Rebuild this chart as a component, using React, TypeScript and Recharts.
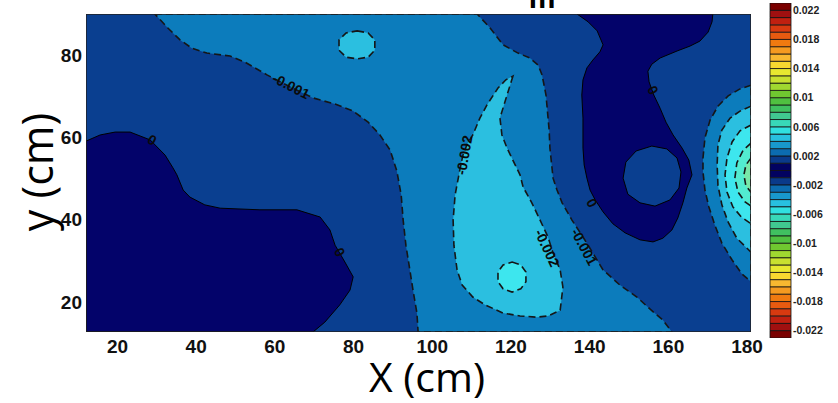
import React from 'react';
import { ComposedChart, Scatter, XAxis, YAxis, Customized, BarChart, Bar } from 'recharts';

// axes
const xTicks = [20, 40, 60, 80, 100, 120, 140, 160, 180];
const yTicks = [20, 40, 60, 80];
const plotBox = [[12, 12.7], [181, 12.7], [181, 90], [12, 90]];

// contour regions, outline points in (x cm, y cm)
const zeroLeft = [[12, 59.1], [15.6, 60.6], [19.4, 61.3], [23.2, 61.3], [28.3, 59.4], [32.1, 55.7], [34.1, 52.6], [35.1, 50.9], [36.7, 47.2], [38.4, 45.5], [42.2, 43.6], [46.1, 42.8], [56.2, 42.4], [65.6, 42.4], [71.5, 40.65], [74.0, 37.5], [75.3, 33.8], [77.8, 29.7], [79.9, 26.1], [79.1, 22.9], [76.5, 19.3], [72.7, 15.1], [69.7, 12.7], [12, 12.7]];
const minus001Center = [[29.5, 90], [111.4, 90], [114.7, 86.6], [118.0, 82.5], [121.8, 80.5], [124.8, 79.3], [126.9, 77.6], [127.9, 75.2], [128.9, 70.3], [129.2, 67.1], [129.7, 61.8], [129.9, 57.4], [130.7, 50.1], [131.7, 47.2], [133.0, 44.1], [135.5, 39.9], [138.3, 35.8], [140.8, 31.9], [143.4, 27.8], [147.7, 24.1], [152.0, 21.2], [155.3, 18.3], [158.6, 15.6], [160.9, 12.7], [96.4, 12.7], [96.1, 17.3], [95.1, 22.9], [94.3, 27.8], [93.3, 33.8], [92.6, 39.9], [92.1, 46.0], [91.0, 51.8], [89.3, 56.9], [86.7, 60.6], [83.7, 63.7], [79.9, 66.4], [75.3, 68.1], [69.7, 69.6], [63.8, 72.3], [58.0, 75.2], [52.4, 78.3], [48.6, 79.8], [42.7, 80.5], [38.9, 81.7], [35.9, 83.7], [32.8, 86.6]];
const minus002Top = [[80.9, 85.9], [83.7, 85.4], [85.4, 83.7], [85.4, 81.2], [83.7, 79.5], [80.9, 79.1], [78.1, 79.5], [76.3, 81.2], [76.3, 83.7], [78.1, 85.4]];
const minus002Drop = [[120.5, 74.9], [119.0, 70.3], [117.2, 64.7], [117.7, 60.6], [119.0, 57.4], [122.3, 50.9], [123.1, 47.9], [125.3, 44.1], [127.4, 39.9], [129.4, 35.8], [130.7, 31.9], [132.5, 27.8], [133.2, 23.6], [132.5, 18.0], [129.4, 16.6], [126.6, 16.3], [122.3, 16.6], [118.0, 17.3], [113.4, 19.3], [110.3, 21.2], [107.6, 24.1], [106.3, 27.8], [105.5, 33.8], [105.3, 39.9], [105.8, 46.0], [107.0, 52.1], [107.8, 55.7], [108.8, 58.2], [110.3, 60.6], [112.1, 64.7], [113.9, 67.9], [116.7, 72.0], [118.7, 74.0]];
const minus003Spot = [[120.3, 29.7], [122.5, 29.0], [123.8, 27.3], [123.8, 24.9], [122.5, 23.2], [120.3, 22.4], [118.0, 23.2], [116.7, 24.9], [116.7, 27.3], [118.0, 29.0]];
const zeroRight = [[136.8, 90], [139.6, 88.1], [141.9, 85.9], [143.4, 82.5], [142.6, 80.8], [140.8, 78.8], [139.3, 76.9], [138.3, 74.0], [138.0, 70.3], [138.3, 64.7], [138.3, 57.4], [138.6, 53.3], [139.3, 50.1], [140.1, 47.2], [141.4, 44.8], [143.4, 41.9], [145.9, 39.0], [149.0, 36.8], [152.8, 35.1], [156.1, 34.6], [158.6, 35.5], [160.9, 37.5], [162.4, 40.4], [163.7, 44.1], [164.7, 47.7], [166.0, 50.9], [165.2, 54.5], [163.5, 57.4], [161.2, 60.6], [159.4, 63.7], [157.9, 67.1], [156.3, 70.3], [155.1, 73.5], [154.8, 76.1], [155.8, 77.8], [157.9, 79.3], [162.2, 81.0], [165.5, 82.2], [168.0, 83.4], [170.1, 85.6], [171.1, 88.1], [171.3, 90]];
const zeroRightHole = [[155.8, 57.9], [159.6, 57.2], [162.2, 55.0], [163.2, 51.6], [162.7, 47.7], [160.4, 44.8], [156.6, 43.3], [152.8, 44.1], [149.7, 46.2], [148.5, 50.1], [149.2, 54.0], [151.8, 56.7]];
const edgeRing1 = [[181, 72.7], [178.2, 71.8], [175.2, 70.1], [172.6, 67.6], [170.6, 64.2], [169.3, 59.9], [168.8, 55.0], [168.8, 51.6], [169.3, 47.2], [170.3, 43.1], [171.8, 38.7], [173.6, 34.3], [176.2, 30.2], [178.7, 26.8], [181, 24.9]];
const edgeRing2 = [[181, 67.6], [178.2, 66.4], [175.7, 64.7], [173.6, 61.8], [172.6, 58.2], [172.4, 53.3], [172.6, 48.4], [173.6, 43.6], [175.2, 39.4], [177.4, 35.5], [181, 32.1]];
const edgeRing3 = [[181, 63.0], [178.2, 61.6], [176.2, 58.9], [174.9, 55.0], [174.4, 50.9], [174.9, 46.7], [176.4, 43.1], [178.5, 40.7], [181, 39.0]];
const edgeRing4 = [[181, 58.6], [179.0, 56.9], [177.4, 53.8], [176.9, 50.1], [177.7, 46.7], [179.5, 44.3], [181, 43.3]];
const edgeRing5 = [[181, 55.0], [179.7, 53.3], [179.2, 50.9], [179.7, 48.2], [181, 46.7]];

const contourLabels = [
  { x: 64.1, y: 72.5, text: '-0.001' },
  { x: 28.8, y: 59.4, text: '0' },
  { x: 108.1, y: 55.7, text: '-0.002' },
  { x: 129.2, y: 33.1, text: '-0.002' },
  { x: 138.6, y: 33.4, text: '-0.001' },
  { x: 140.6, y: 44.1, text: '0' },
  { x: 156.1, y: 71.5, text: '0' },
  { x: 76.5, y: 32.1, text: '0' },
];
const labelAngles = [27, 30, -80, 65, 62, 60, 60, 60];

// colorbar
const cbLevels = [-0.023, -0.022, -0.021, -0.02, -0.019, -0.018, -0.017, -0.016, -0.015, -0.014, -0.013, -0.012, -0.011, -0.01, -0.009, -0.008, -0.007, -0.006, -0.005, -0.004, -0.003, -0.002, -0.001, 0, 0.001, 0.002, 0.003, 0.004, 0.005, 0.006, 0.007, 0.008, 0.009, 0.01, 0.011, 0.012, 0.013, 0.014, 0.015, 0.016, 0.017, 0.018, 0.019, 0.02, 0.021, 0.022, 0.023];
const cbTicks = [0.022, 0.018, 0.014, 0.01, 0.006, 0.002, -0.002, -0.006, -0.01, -0.014, -0.018, -0.022];
// colours from 0 outwards
const cbColorsOut = ['#020260', '#0a3a8a', '#0c6cb0', '#1898cc', '#28c0e0', '#30e0e0', '#38d8b8', '#40c890', '#40c060', '#50c040', '#70c830', '#a0d830', '#c8e030', '#e8e830', '#f8d830', '#f8b830', '#f59a20', '#f07a10', '#e85a10', '#d83a10', '#c02010', '#a01010', '#7a0000'];

const C = {
  l0: '#03036a',
  l1: '#0a3f90',
  l2: '#0c7cbc',
  l3: '#2bbfe0',
  l4: '#3de6ee',
  l5: '#52ecd0',
  l6: '#78e8a8',
};
const FONT = '"Liberation Sans", Arial, sans-serif';

const layers = [
  { id: 'bg', pts: plotBox, fill: C.l1, line: 'none' },
  { id: 'z0', pts: zeroLeft, fill: C.l0, line: 'solid' },
  { id: 'm1', pts: minus001Center, fill: C.l2, line: 'dash' },
  { id: 'm2a', pts: minus002Top, fill: C.l3, line: 'dash' },
  { id: 'm2b', pts: minus002Drop, fill: C.l3, line: 'dash' },
  { id: 'm3', pts: minus003Spot, fill: C.l4, line: 'dash' },
  { id: 'z1', pts: zeroRight, fill: C.l0, line: 'solid' },
  { id: 'z1h', pts: zeroRightHole, fill: C.l1, line: 'solid' },
  { id: 'r1', pts: edgeRing1, fill: C.l2, line: 'dash' },
  { id: 'r2', pts: edgeRing2, fill: C.l3, line: 'dash' },
  { id: 'r3', pts: edgeRing3, fill: C.l4, line: 'dash' },
  { id: 'r4', pts: edgeRing4, fill: C.l5, line: 'dash' },
  { id: 'r5', pts: edgeRing5, fill: C.l6, line: 'dash' },
  { id: 'frame', pts: plotBox, fill: 'none', line: 'frame' },
];

const NoDot = () => <g />;

const polygon = (fill: string, line: string) => (p: any) => {
  const pts = (p.points || []).filter((q: any) => q.x != null && q.y != null);
  if (!pts.length) return <g />;
  const d = 'M' + pts.map((q: any) => `${q.x},${q.y}`).join('L') + 'Z';
  let stroke = 'none';
  let width = 0;
  let dash: string | undefined;
  if (line === 'solid') { stroke = '#000'; width = 1; }
  if (line === 'dash') { stroke = '#161616'; width = 1.6; dash = '7 4'; }
  if (line === 'frame') { stroke = '#222'; width = 1.5; }
  return <path d={d} fill={fill} stroke={stroke} strokeWidth={width} strokeDasharray={dash} />;
};

const labelData = contourLabels.map((l, i) => ({ ...l, angle: labelAngles[i] }));

const LabelShape = (p: any) => {
  if (p.cx == null || p.cy == null) return <g />;
  return (
    <text
      x={p.cx}
      y={p.cy}
      transform={`rotate(${p.payload.angle} ${p.cx} ${p.cy})`}
      textAnchor="middle"
      dominantBaseline="central"
      fontFamily={FONT}
      fontWeight="bold"
      fontSize={14}
      fill="#0a0a0a"
    >
      {p.payload.text}
    </text>
  );
};

const Titles = () => (
  <g>
    <text x={542} y={8} textAnchor="middle" fontFamily={FONT} fontWeight="bold" fontSize={30} fill="#000">m</text>
    <text x={427} y={392} textAnchor="middle" fontFamily='"Open Sans", sans-serif' fontSize={41} fill="#000">X (cm)</text>
    <text x={53} y={172} textAnchor="middle" transform="rotate(-90 53 172)" fontFamily='"Open Sans", sans-serif' fontSize={43} fill="#000">y (cm)</text>
  </g>
);

// colorbar segments built from the levels
const cbRow: Record<string, number | string> = { name: 'cb' };
const cbSegs = cbLevels.slice(0, -1).map((lo, i) => {
  const hi = cbLevels[i + 1];
  const up = lo >= 0;
  const key = `s${i}`;
  cbRow[key] = up ? hi - lo : lo - hi;
  const rank = up ? i - 23 : 22 - i;
  return { key, rank, up, color: cbColorsOut[rank] };
});
const cbOrder = [...cbSegs].sort((a, b) => (a.up === b.up ? a.rank - b.rank : a.up ? -1 : 1));

export default function App() {
  return (
    <div style={{ position: 'absolute', left: 0, top: 0, width: 838, height: 403, background: '#fff' }}>
      <div style={{ position: 'absolute', left: 0, top: 0 }}>
        <ComposedChart width={838} height={403} margin={{ top: 14, right: 87, bottom: 41, left: 46 }}>
          <XAxis
            type="number"
            dataKey="x"
            domain={[12, 181]}
            ticks={xTicks}
            allowDataOverflow
            height={30}
            tickSize={0}
            tickMargin={8}
            axisLine={false}
            tick={{ fill: '#111', fontSize: 19, fontWeight: 'bold', fontFamily: FONT }}
          />
          <YAxis
            type="number"
            dataKey="y"
            domain={[12.7, 90]}
            ticks={yTicks}
            allowDataOverflow
            width={40}
            tickSize={0}
            tickMargin={4}
            axisLine={false}
            tick={{ fill: '#111', fontSize: 19, fontWeight: 'bold', fontFamily: FONT }}
          />
          {layers.map((ly) => (
            <Scatter
              key={ly.id}
              data={ly.pts.map(([x, y]) => ({ x, y }))}
              dataKey="y"
              shape={NoDot}
              line={polygon(ly.fill, ly.line)}
              lineType="joint"
              isAnimationActive={false}
              legendType="none"
            />
          ))}
          <Scatter data={labelData} dataKey="y" shape={LabelShape} isAnimationActive={false} legendType="none" />
          <Customized component={Titles} />
        </ComposedChart>
      </div>
      <div style={{ position: 'absolute', left: 740, top: 0 }}>
        <BarChart width={98} height={403} data={[cbRow]} stackOffset="sign" barCategoryGap={0} margin={{ top: 3, right: 2, bottom: 65, left: 30 }}>
          <XAxis dataKey="name" hide />
          <YAxis
            type="number"
            orientation="right"
            domain={[-0.023, 0.023]}
            ticks={cbTicks}
            allowDataOverflow
            interval={0}
            width={45}
            tickSize={0}
            tickMargin={2}
            axisLine={false}
            tickLine={false}
            tick={{ fill: '#222', fontSize: 10.5, fontWeight: 'bold', fontFamily: FONT }}
          />
          {cbOrder.map((s) => (
            <Bar key={s.key} dataKey={s.key} stackId="cb" fill={s.color} stroke="#111" strokeWidth={0.8} isAnimationActive={false} />
          ))}
        </BarChart>
      </div>
    </div>
  );
}
